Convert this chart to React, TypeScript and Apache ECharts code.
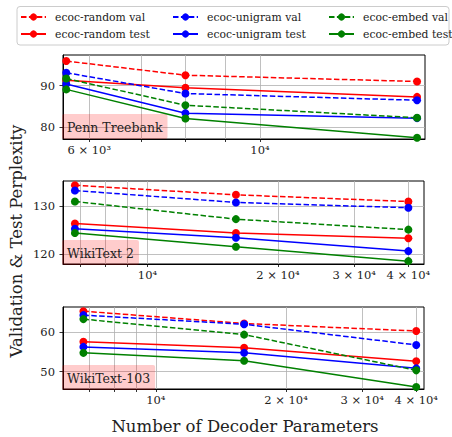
import React, { useEffect, useRef } from 'react';
import * as echarts from 'echarts';

// ---- data ----
const seriesNames = [
  'ecoc-random val',
  'ecoc-random test',
  'ecoc-unigram val',
  'ecoc-unigram test',
  'ecoc-embed val',
  'ecoc-embed test',
];
const seriesColors = ['#ff0000', '#ff0000', '#0000ff', '#0000ff', '#008000', '#008000'];
const seriesDashed = [true, false, true, false, true, false];

const panelTitles = ['Penn Treebank', 'WikiText 2', 'WikiText-103'];

const ptbParams = [5600, 8000, 16000];
const wikiParams = [6800, 16000, 40000];

// Penn Treebank
const ptbRandomVal = [95.9, 92.5, 91.0];
const ptbRandomTest = [91.3, 89.5, 87.3];
const ptbUnigramVal = [93.1, 88.1, 86.5];
const ptbUnigramTest = [90.4, 83.4, 82.2];
const ptbEmbedVal = [91.7, 85.3, 82.3];
const ptbEmbedTest = [89.1, 82.1, 77.5];

// WikiText 2
const wt2RandomVal = [134.4, 132.4, 131.0];
const wt2RandomTest = [126.4, 124.4, 123.3];
const wt2UnigramVal = [133.3, 130.8, 129.7];
const wt2UnigramTest = [125.3, 123.4, 120.6];
const wt2EmbedVal = [131.0, 127.3, 125.1];
const wt2EmbedTest = [124.4, 121.5, 118.5];

// WikiText-103
const wt103RandomVal = [65.2, 62.1, 60.2];
const wt103RandomTest = [57.5, 56.0, 52.6];
const wt103UnigramVal = [64.2, 61.9, 56.7];
const wt103UnigramTest = [56.2, 54.7, 50.8];
const wt103EmbedVal = [63.2, 59.3, 50.3];
const wt103EmbedTest = [54.7, 52.7, 46.1];

// ticks
const ptbXTicks = [6000, 10000];
const ptbXTickLabels = ['6 × 10³', '10⁴'];
const ptbXGrid = [6000, 7000, 8000, 9000, 10000];
const wikiXTicks = [10000, 20000, 30000, 40000];
const wikiXTickLabels = ['10⁴', '2 × 10⁴', '3 × 10⁴', '4 × 10⁴'];
const wikiXGrid = [7000, 8000, 9000, 10000, 20000, 30000, 40000];

const ptbYTicks = [80, 90];
const wt2YTicks = [120, 130];
const wt103YTicks = [50, 60];

const FONT = "'DejaVu Serif', serif";

export default function App() {
  const ref = useRef<HTMLDivElement>(null);

  useEffect(() => {
    if (!ref.current) return;
    const chart = echarts.init(ref.current, undefined, { renderer: 'svg' });

    const panels = [
      {
        params: ptbParams,
        values: [ptbRandomVal, ptbRandomTest, ptbUnigramVal, ptbUnigramTest, ptbEmbedVal, ptbEmbedTest],
        xTicks: ptbXTicks,
        xLabels: ptbXTickLabels,
        xGrid: ptbXGrid,
        yTicks: ptbYTicks,
        xRange: [5546, 16385],
        yRange: [77.2, 97.35],
        grid: { left: 63, top: 55, width: 362, height: 84 },
      },
      {
        params: wikiParams,
        values: [wt2RandomVal, wt2RandomTest, wt2UnigramVal, wt2UnigramTest, wt2EmbedVal, wt2EmbedTest],
        xTicks: wikiXTicks,
        xLabels: wikiXTickLabels,
        xGrid: wikiXGrid,
        yTicks: wt2YTicks,
        xRange: [6383, 43470],
        yRange: [117.9, 135.3],
        grid: { left: 63, top: 181, width: 361, height: 83 },
      },
      {
        params: wikiParams,
        values: [wt103RandomVal, wt103RandomTest, wt103UnigramVal, wt103UnigramTest, wt103EmbedVal, wt103EmbedTest],
        xTicks: wikiXTicks,
        xLabels: wikiXTickLabels,
        xGrid: wikiXGrid,
        yTicks: wt103YTicks,
        xRange: [6100, 41690],
        yRange: [45.6, 66.25],
        grid: { left: 63, top: 307, width: 361, height: 82 },
      },
    ];

    const labelFor = (ticks: number[], labels: string[]) => (v: number) => {
      for (let i = 0; i < ticks.length; i++) {
        if (Math.abs(Math.log10(v) - Math.log10(ticks[i])) < 0.005) return labels[i];
      }
      return '';
    };

    const grids = panels.map((p) => ({
      ...p.grid,
      show: true,
      borderColor: '#000',
      borderWidth: 1,
      backgroundColor: 'transparent',
    }));

    const xAxes = panels.map((p, i) => ({
      type: 'log',
      logBase: 10,
      gridIndex: i,
      min: p.xRange[0],
      max: p.xRange[1],
      axisLine: { show: true, lineStyle: { color: '#000', width: 1 } },
      axisTick: { show: true, length: 3, customValues: p.xGrid, lineStyle: { color: '#000', width: 0.8 } },
      axisLabel: {
        show: true,
        customValues: p.xTicks,
        formatter: labelFor(p.xTicks, p.xLabels),
        fontFamily: FONT,
        fontSize: 11.5,
        color: '#222',
        margin: 5,
      },
      splitLine: { show: true, lineStyle: { color: '#b0b0b0', width: 0.8 } },
      minorTick: { show: false },
      minorSplitLine: { show: false },
    }));

    const yAxes = panels.map((p, i) => ({
      type: 'value',
      gridIndex: i,
      min: p.yRange[0],
      max: p.yRange[1],
      axisLine: { show: true, lineStyle: { color: '#000', width: 1 } },
      axisTick: { show: true, length: 3.5, customValues: p.yTicks, lineStyle: { color: '#000', width: 0.8 } },
      axisLabel: {
        show: true,
        customValues: p.yTicks,
        fontFamily: FONT,
        fontSize: 11.5,
        color: '#222',
        margin: 8,
      },
      splitLine: { show: true, lineStyle: { color: '#b0b0b0', width: 0.8 } },
    }));

    const series: any[] = [];
    panels.forEach((p, i) => {
      seriesNames.forEach((name, k) => {
        series.push({
          name,
          type: 'line',
          xAxisIndex: i,
          yAxisIndex: i,
          data: p.params.map((x, j) => [x, p.values[k][j]]),
          symbol: 'circle',
          symbolSize: 8,
          showSymbol: true,
          lineStyle: {
            color: seriesColors[k],
            width: 1.5,
            type: seriesDashed[k] ? [5.5, 2.4] : 'solid',
          },
          itemStyle: { color: seriesColors[k] },
          z: 2 + k,
        });
      });
    });

    const titleTops = [114, 240, 365];
    const titles = panelTitles.map((t, i) => ({
      text: t,
      left: 62,
      top: titleTops[i],
      padding: [6, 5, 5, 5],
      backgroundColor: 'rgba(255,0,0,0.2)',
      borderRadius: 2,
      textStyle: {
        fontFamily: FONT,
        fontSize: 12.5,
        lineHeight: 14,
        fontWeight: 'normal',
        color: '#222',
      },
    }));

    const legendCols = [
      { left: 20, data: ['ecoc-random val', 'ecoc-random test'] },
      { left: 172, data: ['ecoc-unigram val', 'ecoc-unigram test'] },
      { left: 328, data: ['ecoc-embed val', 'ecoc-embed test'] },
    ];
    const legends = legendCols.map((c) => ({
      left: c.left,
      top: 11,
      orient: 'vertical',
      padding: 0,
      itemWidth: 25,
      itemHeight: 9,
      itemGap: 5,
      data: c.data,
      selectedMode: false,
      textStyle: {
        fontFamily: FONT,
        fontSize: 10.8,
        lineHeight: 12,
        color: '#222',
        padding: [0, 0, 0, 4],
      },
    }));

    chart.setOption({
      animation: false,
      backgroundColor: '#fff',
      textStyle: { fontFamily: FONT },
      title: titles,
      legend: legends,
      grid: grids,
      xAxis: xAxes,
      yAxis: yAxes,
      series,
      graphic: [
        {
          type: 'rect',
          z: 0,
          shape: { x: 17, y: 6.5, width: 432, height: 38.5, r: 3 },
          style: { fill: '#fff', stroke: '#cccccc', lineWidth: 1 },
        },
        {
          type: 'text',
          x: 16,
          y: 241,
          rotation: Math.PI / 2,
          style: {
            text: 'Validation & Test Perplexity',
            fontFamily: FONT,
            fontSize: 16.5,
            fill: '#222',
            textAlign: 'center',
            textVerticalAlign: 'middle',
          },
        },
        {
          type: 'text',
          x: 245,
          y: 426,
          style: {
            text: 'Number of Decoder Parameters',
            fontFamily: FONT,
            fontSize: 16.5,
            fill: '#222',
            textAlign: 'center',
            textVerticalAlign: 'middle',
          },
        },
      ],
    });

    return () => chart.dispose();
  }, []);

  return <div ref={ref} style={{ width: 452, height: 437, position: 'absolute', left: 0, top: 0 }} />;
}
